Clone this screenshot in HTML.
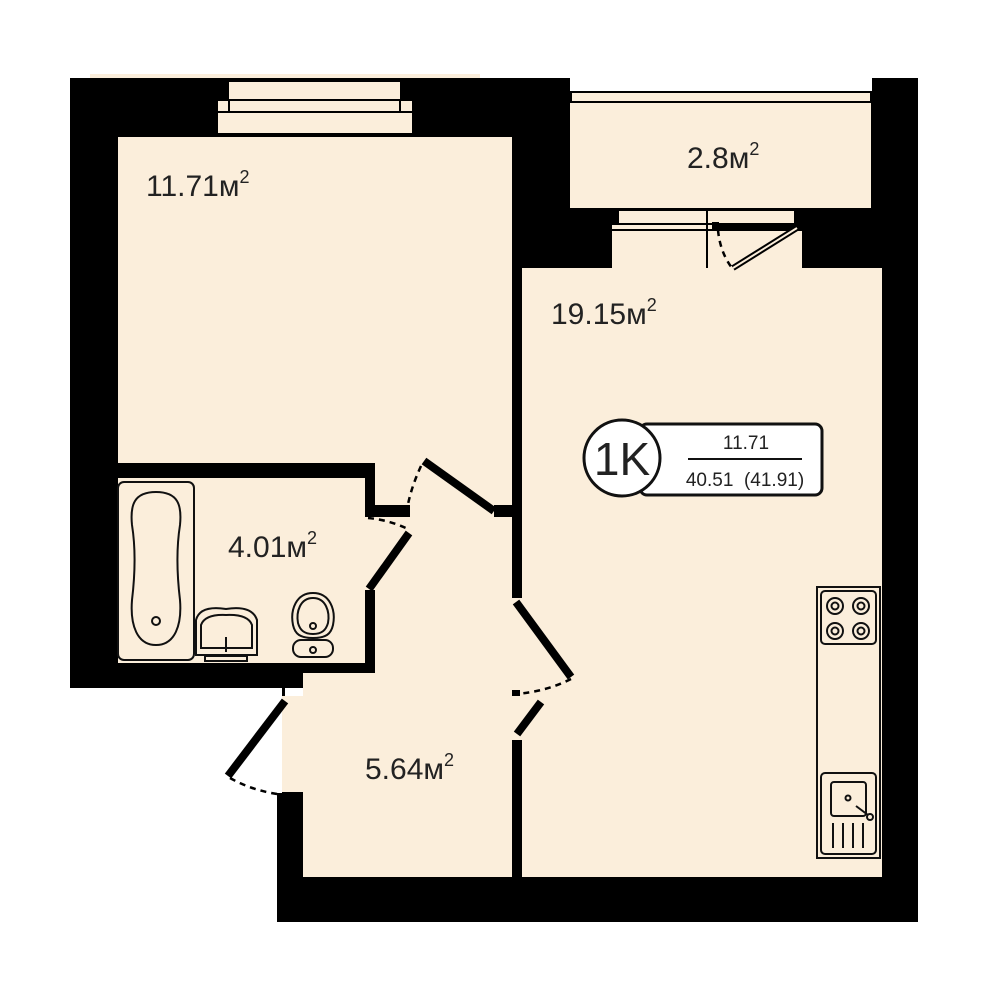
<!DOCTYPE html>
<html><head><meta charset="utf-8"><style>
html,body{margin:0;padding:0;background:#fff;}
svg{display:block;}
text{font-family:"Liberation Sans","DejaVu Sans",sans-serif;fill:#222;}
</style></head><body>
<svg width="1000" height="1000" viewBox="0 0 1000 1000" xmlns="http://www.w3.org/2000/svg">
<rect x="90" y="74" width="390" height="4" fill="#fbeedb"/>
<rect x="70" y="78" width="500" height="610" fill="#000"/>
<rect x="555" y="78" width="363" height="190" fill="#000"/>
<rect x="570" y="78" width="302" height="14" fill="#fff"/>
<rect x="505" y="260" width="413" height="662" fill="#000"/>
<rect x="277" y="660" width="240" height="262" fill="#000"/>
<g fill="#fbeedb">
<rect x="118" y="137" width="394" height="326"/>
<rect x="118" y="478" width="247" height="185"/>
<rect x="375" y="463" width="137" height="210"/>
<rect x="365" y="517" width="147" height="75"/>
<rect x="303" y="673" width="209" height="204"/>
<rect x="282" y="690" width="30" height="102"/>
<rect x="522" y="268" width="360" height="609"/>
<rect x="512" y="598" width="12" height="142"/>
<rect x="570" y="103" width="301" height="105"/>
<rect x="572" y="93" width="298" height="8"/>
<rect x="229" y="82" width="171" height="17"/>
<rect x="218" y="101" width="194" height="10"/>
<rect x="218" y="113" width="194" height="20"/>
<rect x="619" y="211" width="175" height="12"/>
<rect x="612" y="231" width="190" height="37"/>
<rect x="612" y="223" width="106" height="8"/>
</g>
<rect x="477" y="460" width="35" height="47" fill="#fbeedb"/>
<rect x="494" y="505" width="18" height="12" fill="#000"/>
<rect x="365" y="505" width="45" height="12" fill="#000"/>
<rect x="365" y="463" width="10" height="54" fill="#000"/>
<rect x="365" y="590" width="10" height="73" fill="#000"/>
<rect x="282" y="688" width="21" height="8" fill="#fff"/>
<rect x="277" y="688" width="8" height="10" fill="#000"/>
<rect x="282" y="696" width="30" height="96" fill="#fbeedb"/>
<rect x="270" y="688" width="12" height="105" fill="#fff"/>
<g stroke="#000" stroke-width="2" fill="none">
<line x1="229" y1="100" x2="400" y2="100"/>
<line x1="218" y1="112" x2="412" y2="112"/>
<line x1="229" y1="101" x2="229" y2="111"/>
<line x1="400" y1="101" x2="400" y2="111"/>
<line x1="570" y1="92" x2="872" y2="92"/>
<line x1="570" y1="102" x2="872" y2="102"/>
<line x1="707" y1="211" x2="707" y2="268"/>
<line x1="612" y1="224" x2="718" y2="224"/>
<line x1="612" y1="230" x2="718" y2="230"/>
</g>
<rect x="712" y="222" width="7" height="9" fill="#000"/>
<line x1="733" y1="268" x2="797" y2="228" stroke="#000" stroke-width="6"/>
<line x1="733" y1="268" x2="797" y2="228" stroke="#fbeedb" stroke-width="2"/>
<path d="M718 230 Q720 252 732 268" stroke="#000" stroke-width="2.5" fill="none" stroke-dasharray="6,5"/>
<g stroke="#000" stroke-width="8" stroke-linecap="butt">
<line x1="424" y1="461" x2="494" y2="511"/>
<line x1="409" y1="533" x2="369" y2="589"/>
<line x1="516" y1="602" x2="571" y2="677"/>
<line x1="541" y1="702" x2="517" y2="734"/>
<line x1="285" y1="701" x2="228" y2="776"/>
</g>
<g stroke="#000" stroke-width="2.5" fill="none" stroke-dasharray="6,5">
<path d="M421 466 Q410 490 407 510"/>
<path d="M368 518 Q390 520 410 530"/>
<path d="M571 679 Q545 692 515 694"/>
<path d="M230 778 Q255 792 285 795"/>
</g>
<rect x="512" y="690" width="8" height="6" fill="#000"/>
<g stroke="#111" stroke-width="2" fill="none">
<rect x="118" y="482" width="76" height="178" rx="6"/>
<path d="M156 492 C178 492 182 505 180 525 C176 550 177 575 180 600 C182 625 175 645 156 645 C137 645 130 625 132 600 C135 575 136 550 132 525 C130 505 134 492 156 492 Z"/>
<circle cx="156" cy="621" r="4"/>
<path d="M196 655 L196 620 Q200 605 226 609 Q252 605 257 620 L257 655 Z"/>
<path d="M201 648 L201 625 Q205 614 226 615 Q248 614 252 625 L252 648 Z"/>
<line x1="226" y1="637" x2="226" y2="652"/>
<rect x="205" y="656" width="42" height="5"/>
<path d="M313 593 C330 593 336 610 333 625 C331 634 326 638 313 638 C300 638 295 634 293 625 C290 610 296 593 313 593 Z"/>
<path d="M313 598 C326 598 330 612 328 623 C326 630 322 634 313 634 C304 634 300 630 298 623 C296 612 300 598 313 598 Z"/>
<circle cx="313" cy="626" r="3"/>
<rect x="293" y="640" width="40" height="17" rx="8"/>
<circle cx="313" cy="650" r="3"/>
</g>
<g stroke="#111" stroke-width="2" fill="none">
<rect x="817" y="587" width="63" height="271"/>
<rect x="821" y="591" width="55" height="53" rx="4"/>
<circle cx="835" cy="606" r="8"/><circle cx="835" cy="606" r="3.5"/>
<circle cx="861" cy="606" r="8"/><circle cx="861" cy="606" r="3.5"/>
<circle cx="835" cy="631" r="8"/><circle cx="835" cy="631" r="3.5"/>
<circle cx="861" cy="631" r="8"/><circle cx="861" cy="631" r="3.5"/>
<rect x="821" y="773" width="55" height="81" rx="4"/>
<rect x="831" y="782" width="35" height="34" rx="3"/>
<circle cx="848" cy="798" r="2.5"/>
<line x1="856" y1="806" x2="868" y2="815"/>
<circle cx="870" cy="817" r="3"/>
<line x1="833" y1="823" x2="833" y2="848"/>
<line x1="843" y1="823" x2="843" y2="848"/>
<line x1="853" y1="823" x2="853" y2="848"/>
<line x1="863" y1="823" x2="863" y2="848"/>
</g>
<text x="146" y="196" font-size="30">11.71м<tspan dy="-13" font-size="18">2</tspan></text>
<text x="687" y="168" font-size="30">2.8м<tspan dy="-13" font-size="18">2</tspan></text>
<text x="551" y="324" font-size="30">19.15м<tspan dy="-13" font-size="18">2</tspan></text>
<text x="228" y="557" font-size="30">4.01м<tspan dy="-13" font-size="18">2</tspan></text>
<text x="365" y="779" font-size="30">5.64м<tspan dy="-13" font-size="18">2</tspan></text>
<rect x="640" y="424" width="182" height="71" rx="7" fill="#fff" stroke="#111" stroke-width="3"/>
<circle cx="622" cy="458" r="38" fill="#fff" stroke="#111" stroke-width="3"/>
<text x="622" y="475" font-size="46" text-anchor="middle">1K</text>
<text x="746" y="449" font-size="19" text-anchor="middle">11.71</text>
<line x1="688" y1="459" x2="802" y2="459" stroke="#111" stroke-width="2"/>
<text x="745" y="486" font-size="19" text-anchor="middle" xml:space="preserve">40.51  (41.91)</text>
</svg>
</body></html>
